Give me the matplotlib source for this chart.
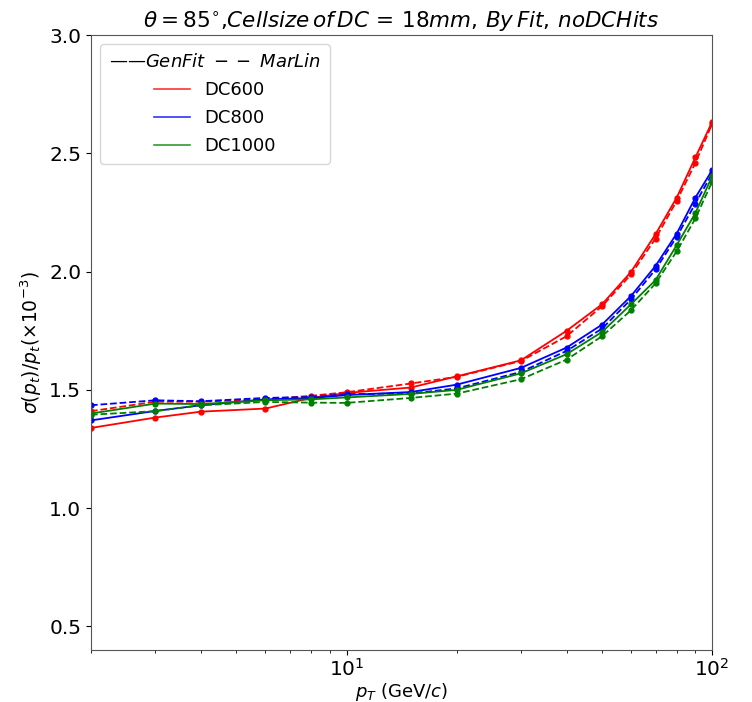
import matplotlib
matplotlib.use("Agg")
import matplotlib.pyplot as plt
from matplotlib.lines import Line2D
import numpy as np

pt = [2, 3, 4, 6, 8, 10, 15, 20, 30, 40, 50, 60, 70, 80, 90, 100]

dc600_genfit = [1.339, 1.383, 1.408, 1.421, 1.466, 1.487, 1.510, 1.557, 1.625, 1.750, 1.862, 1.999, 2.158, 2.313, 2.483, 2.633]
dc600_marlin = [1.410, 1.450, 1.450, 1.460, 1.475, 1.490, 1.527, 1.555, 1.622, 1.727, 1.854, 1.988, 2.140, 2.299, 2.460, 2.625]
dc800_genfit = [1.371, 1.411, 1.435, 1.460, 1.465, 1.478, 1.491, 1.522, 1.593, 1.679, 1.776, 1.897, 2.024, 2.161, 2.313, 2.429]
dc800_marlin = [1.435, 1.456, 1.452, 1.466, 1.470, 1.482, 1.485, 1.506, 1.576, 1.665, 1.759, 1.883, 2.009, 2.147, 2.288, 2.415]
dc1000_genfit = [1.400, 1.442, 1.440, 1.456, 1.460, 1.468, 1.483, 1.500, 1.570, 1.651, 1.745, 1.862, 1.964, 2.112, 2.248, 2.403]
dc1000_marlin = [1.395, 1.410, 1.435, 1.449, 1.446, 1.445, 1.466, 1.484, 1.545, 1.628, 1.727, 1.837, 1.950, 2.086, 2.225, 2.380]

labels = ["DC600", "DC800", "DC1000"]
colors = ["red", "blue", "green"]
genfit = [dc600_genfit, dc800_genfit, dc1000_genfit]
marlin = [dc600_marlin, dc800_marlin, dc1000_marlin]

fig = plt.figure(figsize=(7.52, 7.02), dpi=100)
ax = fig.add_axes([0.121, 0.074, 0.826, 0.876])

handles = []
for lab, c, g, m in zip(labels, colors, genfit, marlin):
    ax.plot(pt, g, '-', color=c, lw=1.3, marker='o', ms=3.5)
    ax.plot(pt, m, '--', color=c, lw=1.3, marker='o', ms=3.5)
    handles.append(Line2D([], [], color=c, lw=1.2, alpha=0.8))

ax.set_xscale('log')
ax.set_xlim(2, 100)
ax.set_ylim(0.4, 3.0)
ax.set_yticks([0.5, 1.0, 1.5, 2.0, 2.5, 3.0])
ax.tick_params(axis='both', labelsize=14.5)
ax.tick_params(axis='x', which='major', pad=2)

ax.set_xlabel(r'$p_T$ (GeV/$c$)', fontsize=13, labelpad=1)
ax.set_ylabel(r'$\sigma(p_t)/p_t(\times 10^{-3})$', fontsize=13.5)
ax.set_title(r'$\theta=85^{\circ}$,$Cellsize\,of\,DC\,=\,18mm,\,By\,Fit,\,noDCHits$', fontsize=15.5, pad=5)

leg = ax.legend(handles, labels, loc='upper left', fontsize=13,
                title='\u2014\u2014$GenFit\\ --\\ MarLin$', title_fontsize=13,
                handlelength=2.0, borderpad=0.5, labelspacing=0.55,
                borderaxespad=0.5)

for s in ax.spines.values():
    s.set_color('#555555')

fig.savefig('out.png', dpi=100)
